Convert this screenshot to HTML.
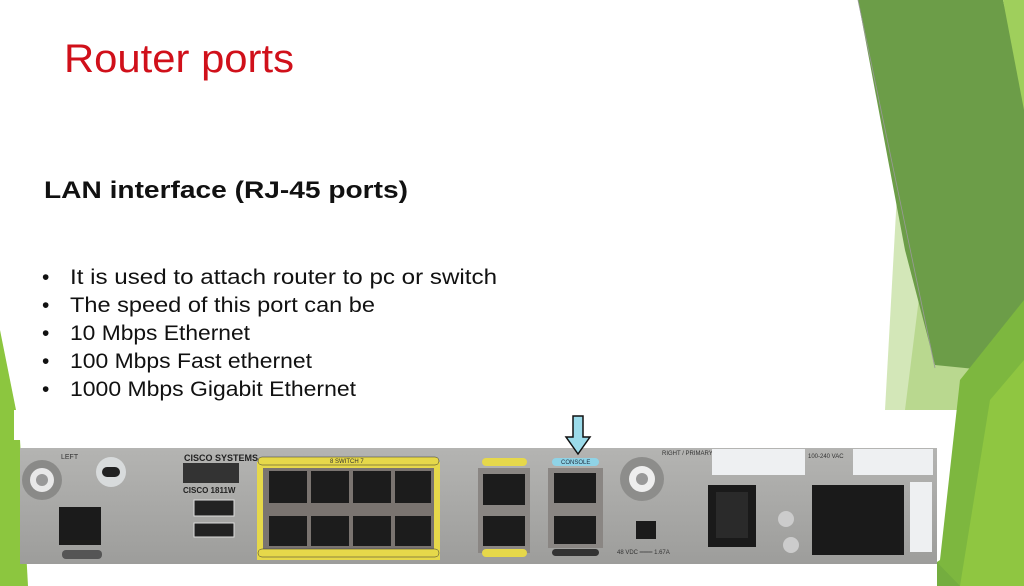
<!DOCTYPE html>
<html><head><meta charset="utf-8"><style>
html,body{margin:0;padding:0;background:#fff;}
svg{display:block}
text{font-family:"Liberation Sans",sans-serif}
</style></head><body>
<svg width="1024" height="586" viewBox="0 0 1024 586" xmlns="http://www.w3.org/2000/svg">
<rect width="1024" height="586" fill="#fff"/>
<!-- right green shapes -->
<polygon points="900,140 990,330 970,410 885,410" fill="#d3e7b8"/>
<polygon points="925,250 1000,330 960,410 905,410" fill="#b9d88f"/>
<polygon points="858,0 1003,0 1024,90 1024,320 985,370 935,365 905,250" fill="#6c9d48"/>
<polygon points="1003,0 1024,0 1024,110" fill="#9fcf5c"/>
<polygon points="960,380 1024,300 1024,586 900,586 940,560" fill="#7db73f"/>
<polygon points="990,400 1024,360 1024,586 960,586" fill="#8fc641"/>
<polygon points="870,586 930,555 960,586" fill="#74ad3f"/>
<line x1="858" y1="0" x2="935" y2="368" stroke="#999" stroke-width="0.8"/>
<!-- left green strip -->
<polygon points="0,330 18,420 30,586 0,586" fill="#8cc63f"/>
<!-- image white box -->
<rect x="14" y="410" width="923" height="176" fill="#fff"/>
<polygon points="14,440 20,440 28,586 14,586" fill="#8cc63f"/>

<text x="64" y="72" font-size="40" fill="#d0101a" textLength="230" lengthAdjust="spacingAndGlyphs">Router ports</text>
<text x="44" y="198" font-size="24" font-weight="bold" fill="#111" textLength="364" lengthAdjust="spacingAndGlyphs">LAN  interface (RJ-45 ports)</text>
<g font-size="21" fill="#111">
<text x="42" y="284">•</text><text x="70" y="284" textLength="427" lengthAdjust="spacingAndGlyphs">It is used to attach router to pc or switch</text>
<text x="42" y="312">•</text><text x="70" y="312" textLength="305" lengthAdjust="spacingAndGlyphs">The speed of this port can be</text>
<text x="42" y="340">•</text><text x="70" y="340" textLength="180" lengthAdjust="spacingAndGlyphs">10 Mbps Ethernet</text>
<text x="42" y="368">•</text><text x="70" y="368" textLength="242" lengthAdjust="spacingAndGlyphs">100 Mbps Fast ethernet</text>
<text x="42" y="396">•</text><text x="70" y="396" textLength="286" lengthAdjust="spacingAndGlyphs">1000 Mbps Gigabit Ethernet</text>
</g>

<!-- router panel -->
<defs><linearGradient id="g" x1="0" y1="0" x2="0" y2="1"><stop offset="0" stop-color="#b4b4b2"/><stop offset="1" stop-color="#9d9d9b"/></linearGradient></defs>
<rect x="20" y="448" width="917" height="116" fill="url(#g)"/>
<!-- left connector -->
<circle cx="42" cy="480" r="20" fill="#8a8a88"/><circle cx="42" cy="480" r="12" fill="#e8e8e8"/><circle cx="42" cy="480" r="6" fill="#999"/>
<circle cx="111" cy="472" r="15" fill="#d8dbdc"/><rect x="102" y="467" width="18" height="10" rx="5" fill="#222"/>
<rect x="59" y="507" width="42" height="38" fill="#1b1b1b"/>
<rect x="62" y="550" width="40" height="9" rx="4" fill="#555"/>
<text x="61" y="459" font-size="7" fill="#333">LEFT</text>
<!-- cisco logo -->
<text x="184" y="461" font-size="9" font-weight="bold" fill="#222">CISCO SYSTEMS</text>
<rect x="183" y="463" width="56" height="20" fill="#333"/>
<text x="183" y="493" font-size="8" font-weight="bold" fill="#222">CISCO 1811W</text>
<rect x="194" y="500" width="40" height="16" fill="#222" stroke="#ddd"/><rect x="194" y="523" width="40" height="14" fill="#222" stroke="#ddd"/>
<!-- switch block -->
<rect x="257" y="462" width="183" height="98" fill="#e6d84a"/>
<rect x="263" y="468" width="171" height="86" fill="#7a7470"/>
<rect x="258" y="457" width="181" height="8" rx="4" fill="#e6d84a" stroke="#333" stroke-width="0.5"/>
<rect x="258" y="549" width="181" height="8" rx="4" fill="#e6d84a" stroke="#333" stroke-width="0.5"/>
<text x="330" y="463" font-size="6" fill="#333">8  SWITCH  7</text>
<g fill="#1c1c1c">
<rect x="269" y="471" width="38" height="32"/><rect x="311" y="471" width="38" height="32"/><rect x="353" y="471" width="38" height="32"/><rect x="395" y="471" width="36" height="32"/>
<rect x="269" y="516" width="38" height="30"/><rect x="311" y="516" width="38" height="30"/><rect x="353" y="516" width="38" height="30"/><rect x="395" y="516" width="36" height="30"/>
</g>
<!-- FE ports -->
<rect x="478" y="468" width="52" height="85" fill="#8a8683"/>
<rect x="483" y="474" width="42" height="31" fill="#1c1c1c"/><rect x="483" y="516" width="42" height="30" fill="#1c1c1c"/>
<rect x="482" y="458" width="45" height="8" rx="4" fill="#e6d84a"/><rect x="482" y="549" width="45" height="8" rx="4" fill="#e6d84a"/>
<!-- console/aux -->
<rect x="548" y="468" width="55" height="80" fill="#8a8683"/>
<rect x="554" y="473" width="42" height="30" fill="#1c1c1c"/><rect x="554" y="516" width="42" height="28" fill="#1c1c1c"/>
<rect x="552" y="458" width="47" height="8" rx="4" fill="#8fd3e6"/>
<text x="561" y="464" font-size="6" fill="#234">CONSOLE</text>
<rect x="552" y="549" width="47" height="7" rx="3.5" fill="#333"/>
<!-- arrow -->
<polygon points="573,416 583,416 583,437 590,437 578,454 566,437 573,437" fill="#9bdbea" stroke="#111" stroke-width="1.5"/>
<!-- coax right -->
<circle cx="642" cy="479" r="22" fill="#8d8d8b"/><circle cx="642" cy="479" r="13" fill="#eee"/><circle cx="642" cy="479" r="6" fill="#999"/>
<text x="662" y="455" font-size="6" fill="#333">RIGHT / PRIMARY</text>
<rect x="636" y="521" width="20" height="18" fill="#1b1b1b"/>
<text x="617" y="554" font-size="6" fill="#333">48 VDC ═══ 1.67A</text>
<rect x="712" y="449" width="93" height="26" fill="#eef0f2"/>
<rect x="708" y="485" width="48" height="62" fill="#1a1a1a"/><rect x="716" y="492" width="32" height="46" fill="#2a2a2a"/>
<circle cx="786" cy="519" r="8" fill="#ccc"/><circle cx="791" cy="545" r="8" fill="#ccc"/>
<text x="808" y="458" font-size="6" fill="#333">100-240 VAC</text>
<rect x="853" y="449" width="80" height="26" fill="#eef0f2"/>
<rect x="812" y="485" width="92" height="70" fill="#1a1a1a"/>
<rect x="910" y="482" width="22" height="70" fill="#eef0f2"/>
</svg>
</body></html>
